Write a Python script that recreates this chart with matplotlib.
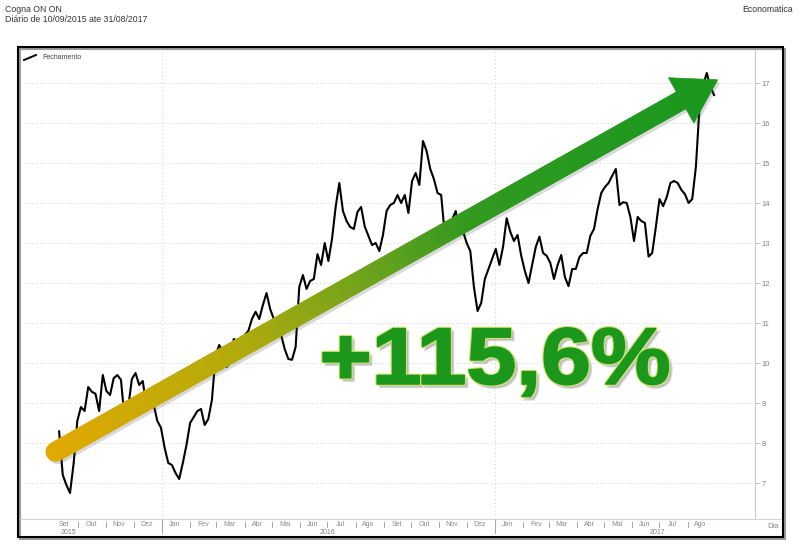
import numpy as np
import pandas as pd
import matplotlib
matplotlib.use("Agg")
import matplotlib.pyplot as plt
import matplotlib.dates as mdates
from matplotlib.collections import LineCollection
from matplotlib.colors import LinearSegmentedColormap
from matplotlib.patches import Polygon, PathPatch, Rectangle
from matplotlib.textpath import TextPath
from matplotlib.font_manager import FontProperties
from matplotlib.transforms import Affine2D, IdentityTransform
from matplotlib.lines import Line2D

plt.rcParams['font.family'] = ['Liberation Sans', 'DejaVu Sans']

titulo = "Cogna ON ON"
subtitulo = "Diário de 10/09/2015 ate 31/08/2017"
fonte = "Economatica"
serie_nome = "Fechamento"
variacao = "+115,6%"

# fechamento, um valor a cada 4 dias a partir de 10/09/2015
inicio = "2015-09-10"
passo = "4D"
fechamento = [
    8.29, 7.2, 6.95, 6.75, 7.5, 8.55, 8.9, 8.8, 9.4, 9.28,
    9.23, 8.8, 9.7, 9.3, 9.2, 9.62, 9.7, 9.58, 8.6, 8.9,
    9.6, 9.75, 9.45, 9.55, 8.9, 8.95, 8.95, 8.55, 8.38, 7.88,
    7.5, 7.45, 7.25, 7.1, 7.5, 7.95, 8.5, 8.65, 8.8, 8.85,
    8.45, 8.6, 9.08, 10.18, 10.45, 10.3, 9.9, 10.0, 10.6, 10.55,
    10.5, 10.7, 10.8, 11.1, 11.28, 11.1, 11.45, 11.75, 11.35, 11.1,
    11.08, 10.7, 10.35, 10.1, 10.08, 10.4, 11.9, 12.2, 11.85, 12.05,
    12.1, 12.72, 12.45, 13.0, 12.55, 13.1, 13.9, 14.5, 13.8, 13.55,
    13.4, 13.35, 13.78, 13.9, 13.41, 13.18, 12.95, 13.0, 12.8, 13.2,
    13.8, 13.95, 14.0, 14.2, 14.0, 14.2, 13.75, 14.55, 14.75, 14.45,
    15.55, 15.3, 14.85, 14.6, 14.25, 14.2, 13.2, 13.35, 13.58, 13.8,
    13.3, 13.3, 13.0, 12.8, 11.9, 11.3, 11.5, 12.1, 12.35, 12.6,
    12.85, 12.45, 12.9, 13.62, 13.28, 13.05, 13.2, 12.68, 12.3, 12.0,
    12.45, 12.9, 13.16, 12.75, 12.68, 12.5, 12.1, 12.45, 12.7, 12.15,
    11.92, 12.35, 12.35, 12.65, 12.75, 12.75, 13.18, 13.35, 13.85, 14.25,
    14.4, 14.5, 14.68, 14.85, 13.95, 14.02, 14.0, 13.65, 13.05, 13.65,
    13.55, 13.5, 12.66, 12.75, 13.4, 14.1, 13.92, 14.15, 14.5, 14.55,
    14.5, 14.33, 14.22, 14.0, 14.1, 14.9, 16.4, 16.95, 17.25, 16.9,
    16.7,
]

meses = ["Set", "Out", "Nov", "Dez",
         "Jan", "Fev", "Mar", "Abr", "Mai", "Jun", "Jul", "Ago", "Set", "Out", "Nov", "Dez",
         "Jan", "Fev", "Mar", "Abr", "Mai", "Jun", "Jul", "Ago"]
anos = ["2015", "2016", "2017"]
anos_pos = ["2015-09-20", "2016-07-01", "2017-06-29"]
y_ticks = list(range(7, 18))

# seta de destaque: do preco inicial ao final
seta_de = ("2015-09-06", 7.78)
seta_ate = ("2017-09-03", 17.08)
texto_pos = ("2017-01-02", 9.45)

W, H = 800, 553
fig = plt.figure(figsize=(W / 100, H / 100), dpi=100)
fig.patch.set_facecolor('white')

ax = fig.add_axes([20 / W, 1 - 519 / H, 735 / W, 472 / H])
datas = pd.date_range(inicio, periods=len(fechamento), freq=passo)
ax.plot(datas, fechamento, color='black', lw=1.5, zorder=3, solid_joinstyle='round')

ax.set_xlim(pd.Timestamp('2015-07-29'), pd.Timestamp('2017-10-14'))
ax.set_ylim(6.1, 17.9)
ax.set_yticks(y_ticks)
ax.yaxis.tick_right()
ax.tick_params(axis='y', direction='out', length=3.5, width=0.6, color='#b5b5b5',
               labelsize=5.5, labelcolor='#808080', pad=1)
ax.set_xticks([])
for s in ['top', 'left', 'bottom']:
    ax.spines[s].set_visible(False)
ax.spines['right'].set_color('#c8c8c8')
ax.spines['right'].set_linewidth(0.8)
ax.grid(axis='y', ls=(0, (1, 3)), color='#cccccc', lw=0.7)
for ano in ['2016-01-01', '2017-01-01']:
    ax.axvline(pd.Timestamp(ano), ls=(0, (1, 3)), color='#cccccc', lw=0.7)

# eixo de meses
trans = ax.get_xaxis_transform()
inicio_meses = pd.date_range('2015-09-01', periods=len(meses), freq='MS')
for i, (m, nome) in enumerate(zip(inicio_meses, meses)):
    ax.text(m + pd.Timedelta(days=14), -6 / 472, nome, transform=trans, ha='center',
            va='center', fontsize=5, color='#8a8a8a')
    if m.month == 1:
        ax.plot([m, m], [0, -14 / 472], transform=trans, color='#a8a8a8', lw=0.8, clip_on=False)
    elif i > 0:
        ax.plot([m, m], [-3 / 472, -8 / 472], transform=trans, color='#a8a8a8', lw=0.7, clip_on=False)
for a, p in zip(anos, anos_pos):
    ax.text(pd.Timestamp(p), -13.5 / 472, a, transform=trans, ha='center', va='center',
            fontsize=5, color='#808080')

fig.add_artist(Line2D([20 / W, 781 / W], [1 - 519 / H] * 2, color='#d5d5d5', lw=0.8))
fig.text(773 / W, 1 - 526 / H, "Dia", fontsize=5.5, color='#8a8a8a', ha='center', va='center')

# moldura
fig.add_artist(Rectangle((20 / W, 1 - 539 / H), 765 / W, 490 / H, fill=False, ec='#9a9a9a',
                         lw=1.5, transform=fig.transFigure))
fig.add_artist(Rectangle((18 / W, 1 - 537 / H), 765 / W, 490 / H, fill=False, ec='black',
                         lw=1.5, transform=fig.transFigure))

# titulos e legenda
fig.text(5 / W, 1 - 9 / H, titulo, fontsize=6.3, va='center', color='#333333')
fig.text(5 / W, 1 - 20 / H, subtitulo, fontsize=6.3, va='center', color='#333333')
fig.text(793 / W, 1 - 10 / H, fonte, fontsize=6.3, va='center', ha='right', color='#333333')
fig.add_artist(Line2D([24 / W, 36 / W], [1 - 60 / H, 1 - 55 / H], color='black', lw=1.4))
fig.text(42 / W, 1 - 57.5 / H, serie_nome, fontsize=5, va='center', color='#444444')

# seta em degrade
cores = LinearSegmentedColormap.from_list(
    'seta', [(0, '#e2a900'), (0.3, '#b2aa0c'), (0.5, '#6fa31c'), (0.66, '#33991f'), (1, '#1d981f')])
p0 = ax.transData.transform((mdates.date2num(pd.Timestamp(seta_de[0])), seta_de[1]))
p1 = ax.transData.transform((mdates.date2num(pd.Timestamp(seta_ate[0])), seta_ate[1]))
u = (p1 - p0) / np.hypot(*(p1 - p0))
n = np.array([-u[1], u[0]])
base = p1 - 42 * u
t = np.linspace(0, 1, 150)
pts = p0 + np.outer(t, base + 4 * u - p0)
segs = np.stack([pts[:-1], pts[1:]], axis=1)
sombra = np.array([2.5, -2.5])

fig.add_artist(Line2D([p0[0] + sombra[0], base[0] + sombra[0]], [p0[1] + sombra[1], base[1] + sombra[1]],
                      color='#555555', alpha=0.22, lw=14.4, solid_capstyle='round',
                      transform=IdentityTransform(), zorder=4))
cabeca = np.array([p1, base + 26 * n, base - 26 * n])
fig.add_artist(Polygon(cabeca + sombra, closed=True, fc='#555555', ec='none', alpha=0.22,
                       transform=IdentityTransform(), zorder=4))
lc = LineCollection(segs, colors=cores(t[:-1]), linewidths=14.4, capstyle='round',
                    transform=IdentityTransform(), zorder=5)
fig.add_artist(lc)
fig.add_artist(Polygon(cabeca, closed=True, fc='#1d981f', ec='#1d981f', lw=0.5,
                       transform=IdentityTransform(), zorder=6))

# texto da variacao (contorno claro, corpo engrossado)
fp = FontProperties(family='Liberation Sans', weight='bold')
tp = TextPath((0, 0), variacao, size=1, prop=fp)
cap = TextPath((0, 0), 'H', size=1, prop=fp).get_extents().height
ext = tp.get_extents()
centro = ax.transData.transform((mdates.date2num(pd.Timestamp(texto_pos[0])), texto_pos[1] + 0.03))
tr = (Affine2D().translate(-ext.x0 - ext.width / 2, 0)
      .scale(345 / ext.width, 55 / cap).translate(*centro))
caminho = tr.transform_path(tp)
fig.add_artist(PathPatch(Affine2D().translate(3, -3).transform_path(caminho), fc='#777777',
                         ec='#777777', lw=2.0, alpha=0.3, transform=IdentityTransform(), zorder=7))
fig.add_artist(PathPatch(caminho, fc='#d2e46e', ec='#d2e46e', lw=3.0, joinstyle='round',
                         transform=IdentityTransform(), zorder=8))
fig.add_artist(PathPatch(caminho, fc='#1b981b', ec='#1b981b', lw=1.4, joinstyle='round',
                         transform=IdentityTransform(), zorder=9))

fig.savefig('out.png', dpi=100)
